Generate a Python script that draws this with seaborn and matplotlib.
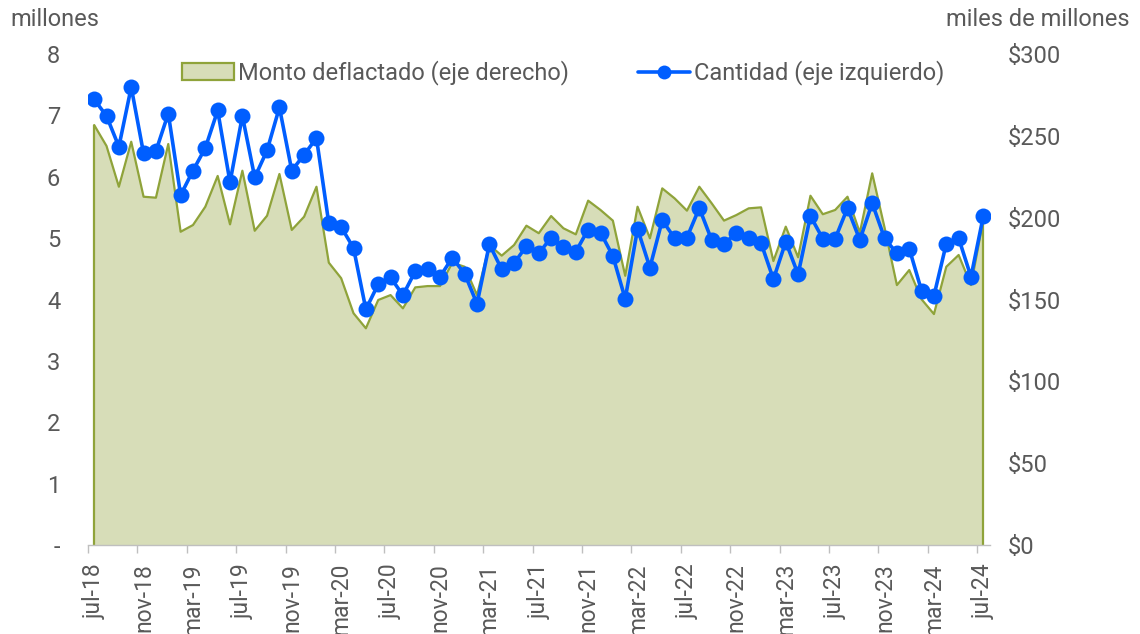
import numpy as np
import pandas as pd
import matplotlib
matplotlib.use("Agg")
import matplotlib.pyplot as plt
from matplotlib.patches import Patch
from matplotlib.lines import Line2D
import seaborn as sns

# ---- data (monthly, jul-18 .. jul-24) ----
cantidad = [7.26, 6.99, 6.49, 7.46, 6.38, 6.42, 7.03, 5.70, 6.10, 6.47, 7.08, 5.91,
            6.99, 5.99, 6.43, 7.13, 6.10, 6.36, 6.63, 5.24, 5.18, 4.84, 3.84, 4.25,
            4.36, 4.07, 4.46, 4.49, 4.37, 4.68, 4.42, 3.93, 4.90, 4.49, 4.59, 4.87,
            4.75, 5.01, 4.85, 4.78, 5.14, 5.09, 4.71, 4.01, 5.15, 4.52, 5.29, 5.00,
            5.01, 5.49, 4.97, 4.90, 5.09, 5.01, 4.92, 4.33, 4.94, 4.41, 5.36, 4.99,
            4.99, 5.49, 4.97, 5.57, 5.00, 4.75, 4.83, 4.14, 4.06, 4.91, 5.00, 4.37,
            5.36]
monto = [256.6, 243.8, 218.9, 246.4, 212.8, 212.2, 245.0, 191.4, 195.5, 206.7, 225.5, 195.9,
         228.7, 192.0, 201.2, 226.7, 192.5, 200.6, 218.9, 172.5, 163.0, 141.6, 132.4, 149.7,
         152.7, 144.6, 157.4, 158.2, 158.2, 172.5, 170.0, 152.7, 183.3, 176.8, 183.3, 195.1,
         190.5, 201.0, 193.5, 189.8, 210.4, 204.7, 198.2, 164.5, 206.7, 187.4, 217.9, 211.8,
         204.3, 218.9, 208.8, 198.2, 201.6, 205.7, 206.3, 173.5, 194.5, 175.8, 213.4, 202.1,
         204.7, 212.8, 190.8, 227.1, 194.0, 158.8, 168.0, 150.1, 141.1, 170.0, 177.2, 158.8,
         198.6]
xtick_labels = ["jul-18", "nov-18", "mar-19", "jul-19", "nov-19", "mar-20", "jul-20",
                "nov-20", "mar-21", "jul-21", "nov-21", "mar-22", "jul-22", "nov-22",
                "mar-23", "jul-23", "nov-23", "mar-24", "jul-24"]
left_ticks = [0, 1, 2, 3, 4, 5, 6, 7, 8]
left_labels = ["-", "1", "2", "3", "4", "5", "6", "7", "8"]
right_ticks = [0, 50, 100, 150, 200, 250, 300]
right_labels = [r"\$0", r"\$50", r"\$100", r"\$150", r"\$200", r"\$250", r"\$300"]
legend_labels = ["Monto deflactado (eje derecho)", "Cantidad (eje izquierdo)"]

FILL = "#D7DDB8"
EDGE = "#8FA33A"
BLUE = "#005EFF"
TXT = "#595959"
FS = 17

sns.set_theme(style="white")
plt.rcParams["font.family"] = ["Roboto", "DejaVu Sans"]

fig = plt.figure(figsize=(11.4, 6.34), dpi=100)
ax = fig.add_axes([0.0772, 0.1404, 0.7908, 0.7744])
ax2 = ax.twinx()

x = np.arange(len(cantidad))
df = pd.DataFrame({"x": x, "cantidad": cantidad, "monto": monto})

# area (right axis)
ax2.fill_between(df["x"], 0, df["monto"], facecolor=FILL, edgecolor="none", zorder=1)
sns.lineplot(data=df, x="x", y="monto", ax=ax2, color=EDGE, lw=1.6, legend=False)
ax2.vlines([df["x"].iloc[0], df["x"].iloc[-1]], 0,
           [df["monto"].iloc[0], df["monto"].iloc[-1]], color=EDGE, lw=1.6)

# line (left axis)
sns.lineplot(data=df, x="x", y="cantidad", ax=ax, color=BLUE, lw=2.6, marker="o",
             markersize=11.5, markeredgewidth=0, legend=False)
ax.set_zorder(ax2.get_zorder() + 1)
ax.patch.set_visible(False)

ax.set_xlim(-0.5, len(cantidad) - 0.5)
ax.set_ylim(0, 8)
ax2.set_ylim(0, 300)

ax.set_xticks(x[::4])
ax.set_xticklabels(xtick_labels)
ax.set_xticks(np.arange(-0.5, len(cantidad) - 1, 4), minor=True)
ax.tick_params(axis="x", which="major", length=0, pad=13, rotation=90,
               labelsize=16.5, labelcolor=TXT)
ax.tick_params(axis="x", which="minor", bottom=True, length=6, width=1, color="#BFBFBF")

ax.set_yticks(left_ticks)
ax.set_yticklabels(left_labels)
ax.tick_params(axis="y", length=0, pad=20, labelsize=FS, labelcolor=TXT)
ax2.set_yticks(right_ticks)
ax2.set_yticklabels(right_labels)
ax2.tick_params(axis="y", length=0, pad=13, labelsize=FS, labelcolor=TXT)

for a in (ax, ax2):
    a.set_xlabel("")
    a.set_ylabel("")
    for s in a.spines.values():
        s.set_visible(False)
ax.spines["bottom"].set_visible(True)
ax.spines["bottom"].set_color("#BFBFBF")
ax.spines["bottom"].set_linewidth(1)
ax.grid(False)
ax2.grid(False)

handles = [Patch(facecolor=FILL, edgecolor=EDGE, lw=1.6),
           Line2D([], [], color=BLUE, lw=2.6, marker="o", markersize=10, markeredgewidth=0)]
fig.legend(handles, legend_labels, loc="center", bbox_to_anchor=(0.494, 0.885), ncol=2,
           frameon=False, fontsize=FS, labelcolor=TXT, columnspacing=2.9,
           handlelength=2.2, handletextpad=0.17)

fig.text(10 / 1140, 1 - 19 / 634, "millones", ha="left", va="center", fontsize=FS, color=TXT)
fig.text(1130 / 1140, 1 - 19 / 634, "miles de millones", ha="right", va="center",
         fontsize=FS, color=TXT)

fig.savefig("out.png", dpi=100)
